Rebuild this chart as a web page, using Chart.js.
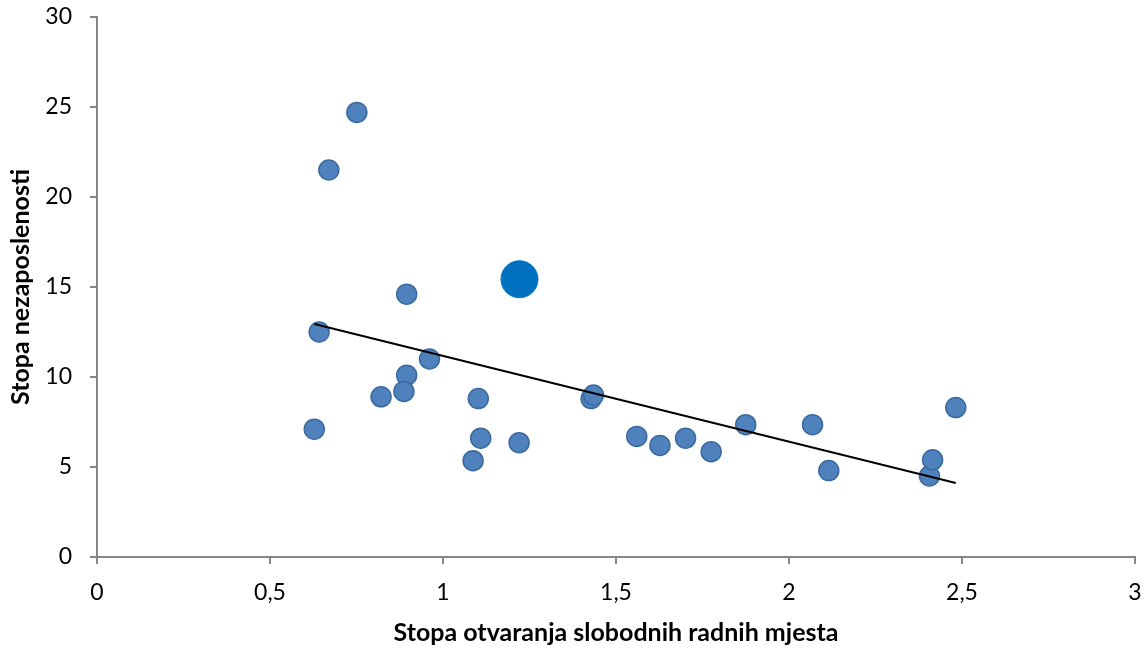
<!DOCTYPE html>
<html>
<head>
<meta charset="utf-8">
<script src="https://cdn.jsdelivr.net/npm/chart.js@4"></script>
<style>
  html, body { margin: 0; padding: 0; background: #fff; overflow: hidden; }
  canvas { display: block; }
</style>
</head>
<body>
<canvas id="chart" width="1144" height="648"></canvas>
<script>
// Stopa otvaranja slobodnih radnih mjesta (x) / Stopa nezaposlenosti (y)
const pointsX = [0.751, 0.670, 0.895, 0.642, 0.961, 0.895, 0.887, 0.821, 1.102, 0.628, 1.109, 1.220, 1.087,
                 1.428, 1.435, 1.560, 1.627, 1.701, 1.775, 1.875, 2.068, 2.115, 2.406, 2.415, 2.482]
const pointsY = [24.7, 21.5, 14.6, 12.5, 11.0, 10.1, 9.2, 8.9, 8.8, 7.1, 6.6, 6.35, 5.35,
                 8.8, 9.0, 6.7, 6.2, 6.6, 5.85, 7.35, 7.35, 4.8, 4.5, 5.4, 8.3]
// istaknuta tocka
const highlightX = [1.221]
const highlightY = [15.43]
// linija trenda (krajnje tocke)
const trendX = [0.628, 2.482]
const trendY = [12.94, 4.11]

const xTicks = [0, 0.5, 1, 1.5, 2, 2.5, 3]
const yTicks = [0, 5, 10, 15, 20, 25, 30]

const toXY = (xs, ys) => xs.map((x, i) => ({ x: x, y: ys[i] }))
const fmt = v => String(v).replace('.', ',')

const axisColor = '#868686'
const tickFont = { family: 'Lato', size: 23 }
const titleFont = { family: 'Lato', size: 25, weight: 'bold' }

// ne dopusti Chart.js-u da dodaje razmak zbog preljeva oznaka
const noOverflow = s => { s.paddingTop = 0; s.paddingBottom = 0; s.paddingLeft = 0; s.paddingRight = 0 }

const data = {
    datasets: [{
        label: 'Trend',
        type: 'line',
        data: toXY(trendX, trendY),
        borderColor: '#000',
        borderWidth: 2,
        pointRadius: 0,
        fill: false,
        order: 0
    }, {
        label: 'Podaci',
        data: toXY(pointsX, pointsY),
        backgroundColor: '#4F81BD',
        borderColor: '#3B6AA0',
        borderWidth: 1.5,
        pointRadius: 10,
        order: 1
    }, {
        label: 'Istaknuto',
        data: toXY(highlightX, highlightY),
        backgroundColor: '#0070C0',
        borderColor: '#0070C0',
        borderWidth: 1,
        pointRadius: 18.5,
        order: 2
    }]
}

const config = {
    type: 'scatter',
    data: data,
    options: {
        responsive: false,
        animation: false,
        events: [],
        layout: { autoPadding: false, padding: { top: 17, right: 9, left: 0, bottom: 0 } },
        plugins: { legend: { display: false }, tooltip: { enabled: false } },
        scales: {
            x: {
                type: 'linear', min: 0, max: 3,
                afterBuildTicks: s => { s.ticks = xTicks.map(v => ({ value: v })) },
                afterFit: s => { s.height = 91; noOverflow(s) },
                ticks: { callback: fmt, font: tickFont, color: '#000', padding: 15, maxRotation: 0 },
                grid: { drawOnChartArea: false, drawTicks: true, tickLength: 7, color: axisColor, lineWidth: 2 },
                border: { display: true, color: axisColor, width: 2 },
                title: { display: true, text: 'Stopa otvaranja slobodnih radnih mjesta', font: titleFont, color: '#000', padding: { top: 0, bottom: 0 } }
            },
            y: {
                type: 'linear', min: 0, max: 30,
                afterBuildTicks: s => { s.ticks = yTicks.map(v => ({ value: v })) },
                afterFit: s => { s.width = 97; noOverflow(s) },
                ticks: { callback: fmt, font: tickFont, color: '#000', padding: 18 },
                grid: { drawOnChartArea: false, drawTicks: true, tickLength: 7, color: axisColor, lineWidth: 2 },
                border: { display: true, color: axisColor, width: 2 },
                title: { display: true, text: 'Stopa nezaposlenosti', font: titleFont, color: '#000', padding: { top: 6, bottom: 0 } }
            }
        }
    }
}

new Chart(document.getElementById('chart'), config)
</script>
</body>
</html>
